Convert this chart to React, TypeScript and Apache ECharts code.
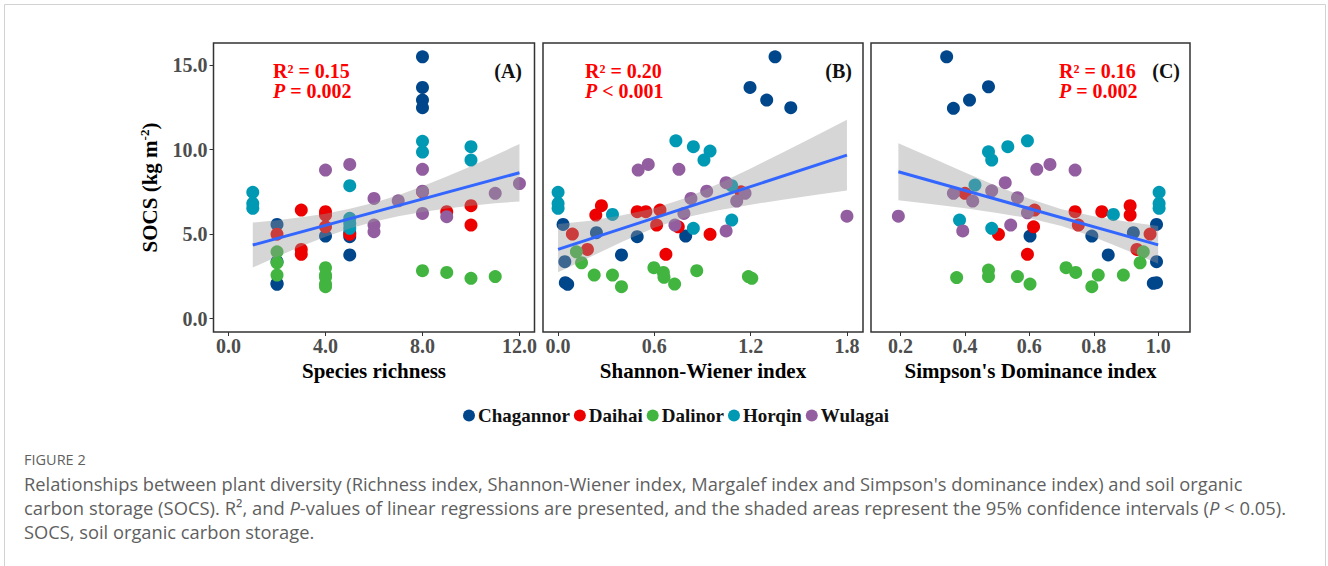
import React, { useEffect, useRef } from "react";
import * as echarts from "echarts";

const SITES = ["Chagannor", "Daihai", "Dalinor", "Horqin", "Wulagai"];
const SITE_COLORS = ["#00468B", "#ED0000", "#42B540", "#0099B4", "#925E9F"];

// Panel A: Species richness (x) vs SOCS (y)
const richChagannor = [[2, 5.58], [2, 3.37], [2, 2.09], [2, 2.03], [4, 4.89], [5, 5.09], [5, 4.85], [5, 3.77], [8, 15.5], [8, 13.69], [8, 12.94], [8, 12.49]];
const richDaihai = [[2, 5.0], [3, 6.43], [3, 4.1], [3, 3.81], [4, 6.33], [4, 6.13], [4, 5.44], [5, 4.99], [8, 7.51], [9, 6.33], [10, 6.69], [10, 5.54]];
const richDalinor = [[2, 3.96], [2, 3.31], [2, 2.58], [4, 3.02], [4, 2.58], [4, 2.45], [4, 2.05], [4, 1.89], [8, 2.84], [9, 2.74], [10, 2.39], [11, 2.49]];
const richHorqin = [[1, 7.48], [1, 6.82], [1, 6.53], [5, 7.87], [5, 5.94], [5, 5.64], [5, 5.35], [8, 10.5], [8, 9.86], [10, 10.18], [10, 9.39]];
const richWulagai = [[4, 8.8], [5, 9.13], [6, 7.12], [6, 5.54], [6, 5.15], [7, 6.98], [8, 8.84], [8, 7.55], [8, 6.23], [9, 6.04], [11, 7.42], [12, 8.0]];

// Panel B: Shannon-Wiener index (x) vs SOCS (y)
const shanChagannor = [[1.352, 15.5], [1.196, 13.69], [1.3, 12.94], [1.45, 12.49], [0.031, 5.58], [0.239, 5.09], [0.493, 4.85], [0.795, 4.89], [0.395, 3.77], [0.042, 3.37], [0.045, 2.13], [0.06, 2.03]];
const shanDaihai = [[0.27, 6.69], [0.235, 6.13], [0.089, 5.01], [0.183, 4.1], [0.493, 6.33], [0.547, 6.33], [0.635, 6.43], [0.614, 5.54], [0.749, 5.44], [0.947, 4.99], [0.672, 3.81], [1.14, 7.51]];
const shanDalinor = [[0.114, 3.96], [0.146, 3.31], [0.225, 2.58], [0.339, 2.58], [0.395, 1.89], [0.597, 3.02], [0.656, 2.74], [0.66, 2.45], [0.726, 2.05], [0.864, 2.84], [1.186, 2.49], [1.207, 2.39]];
const shanHorqin = [[0, 7.48], [0, 6.82], [0, 6.53], [0.339, 6.17], [0.734, 10.53], [0.843, 10.18], [0.947, 9.92], [0.909, 9.39], [1.082, 7.87], [1.082, 5.84], [0.843, 5.35]];
const shanWulagai = [[0.499, 8.8], [0.562, 9.13], [0.753, 8.84], [0.828, 7.12], [0.926, 7.55], [1.047, 8.05], [1.165, 7.42], [1.113, 6.96], [0.784, 6.23], [0.728, 5.54], [1.047, 5.19], [1.8, 6.07]];

// Panel C: Simpson's dominance index (x) vs SOCS (y)
const simpChagannor = [[0.343, 15.5], [0.364, 12.45], [0.414, 12.94], [0.473, 13.73], [0.995, 5.58], [0.923, 5.09], [0.794, 4.89], [0.602, 4.89], [0.845, 3.77], [0.995, 3.37], [0.985, 2.09], [0.995, 2.13]];
const simpDaihai = [[0.4, 7.42], [0.913, 6.69], [0.913, 6.13], [0.825, 6.33], [0.742, 6.33], [0.752, 5.54], [0.616, 6.43], [0.613, 5.44], [0.504, 4.99], [0.594, 3.81], [0.975, 5.01], [0.934, 4.1]];
const simpDalinor = [[0.954, 3.96], [0.944, 3.31], [0.892, 2.58], [0.814, 2.58], [0.794, 1.89], [0.714, 3.02], [0.744, 2.74], [0.602, 2.05], [0.563, 2.49], [0.473, 2.88], [0.473, 2.49], [0.374, 2.43]];
const simpHorqin = [[1.003, 7.48], [1.003, 6.82], [1.003, 6.53], [0.861, 6.17], [0.431, 7.91], [0.473, 9.88], [0.483, 9.39], [0.533, 10.18], [0.594, 10.53], [0.383, 5.84], [0.483, 5.35]];
const simpWulagai = [[0.193, 6.07], [0.364, 7.42], [0.424, 6.96], [0.483, 7.57], [0.525, 8.05], [0.563, 7.16], [0.594, 6.27], [0.623, 8.84], [0.664, 9.13], [0.742, 8.8], [0.542, 5.54], [0.393, 5.19]];

// Regression lines (end points) and 95% confidence bands
const lineA = [[1, 4.36], [12, 8.64]];
const bandAx = [1, 2, 3, 4, 5, 6, 7, 8, 9, 10, 11, 12];
const bandAlo = [3.03, 3.67, 4.28, 4.85, 5.34, 5.74, 6.07, 6.32, 6.52, 6.69, 6.83, 6.94];
const bandAhi = [5.69, 5.83, 6.0, 6.21, 6.5, 6.86, 7.31, 7.84, 8.42, 9.03, 9.67, 10.34];

const lineB = [[0, 4.1], [1.8, 9.68]];
const bandBx = [0, 0.2, 0.4, 0.6, 0.8, 1.0, 1.2, 1.4, 1.6, 1.8];
const bandBlo = [2.75, 3.65, 4.56, 5.38, 6.0, 6.42, 6.75, 7.04, 7.32, 7.58];
const bandBhi = [5.6, 5.79, 6.12, 6.54, 7.16, 7.98, 8.89, 9.84, 10.8, 11.78];

const lineC = [[0.193, 8.7], [1.0, 4.37]];
const bandCx = [0.193, 0.3, 0.4, 0.5, 0.6, 0.7, 0.8, 0.9, 1.0];
const bandClo = [7.01, 6.77, 6.53, 6.26, 5.94, 5.48, 4.84, 4.07, 3.25];
const bandChi = [10.39, 9.49, 8.65, 7.84, 7.1, 6.48, 6.06, 5.75, 5.49];

// Axis ticks
const yTicks = [0, 5, 10, 15];
const xTicksA = [0, 4, 8, 12];
const xTicksB = [0, 0.6, 1.2, 1.8];
const xTicksC = [0.2, 0.4, 0.6, 0.8, 1.0];

const statsA = ["R² = 0.15", "{i|P} = 0.002"];
const statsB = ["R² = 0.20", "{i|P} < 0.001"];
const statsC = ["R² = 0.16", "{i|P} = 0.002"];
const panelLabels = ["(A)", "(B)", "(C)"];
const xTitles = ["Species richness", "Shannon-Wiener index", "Simpson's Dominance index"];

const SERIF = '"Liberation Serif", "Times New Roman", serif';
const SANS = '"Open Sans", "Noto Sans", sans-serif';

export default function App() {
  const ref = useRef<HTMLDivElement>(null);

  useEffect(() => {
    document.body.style.margin = "0";
    const chart = echarts.init(ref.current!, undefined, { renderer: "svg" });

    const gridDefs = [
      { left: 213.5, top: 43, width: 321, height: 289 },
      { left: 543, top: 43, width: 320, height: 289 },
      { left: 871, top: 43, width: 319, height: 289 },
    ];
    const xRanges = [
      [-0.62, 12.62],
      [-0.094, 1.9],
      [0.108, 1.099],
    ];
    const xTickSets = [xTicksA, xTicksB, xTicksC];

    const scatterSets = [
      [richChagannor, richDaihai, richDalinor, richHorqin, richWulagai],
      [shanChagannor, shanDaihai, shanDalinor, shanHorqin, shanWulagai],
      [simpChagannor, simpDaihai, simpDalinor, simpHorqin, simpWulagai],
    ];
    const bands = [
      [bandAx, bandAlo, bandAhi],
      [bandBx, bandBlo, bandBhi],
      [bandCx, bandClo, bandChi],
    ];
    const lines = [lineA, lineB, lineC];

    const tickLabelStyle = {
      fontFamily: SERIF,
      fontWeight: "bold" as const,
      fontSize: 20,
      color: "#4d4d4d",
    };

    const series: any[] = [];
    scatterSets.forEach((sets, g) => {
      sets.forEach((d, s) => {
        series.push({
          type: "scatter",
          name: SITES[s],
          xAxisIndex: g,
          yAxisIndex: g,
          data: d,
          symbol: "circle",
          symbolSize: 13,
          itemStyle: { color: SITE_COLORS[s], opacity: 1 },
          z: 2,
        });
      });
    });
    bands.forEach(([xs, lo, hi], g) => {
      series.push({
        type: "custom",
        xAxisIndex: g,
        yAxisIndex: g,
        silent: true,
        z: 3,
        data: (xs as number[]).map((x, i) => [x, lo[i], hi[i]]),
        encode: { x: 0, y: [1, 2] },
        renderItem: (params: any, api: any) => {
          if (params.dataIndex !== 0) return null;
          const pts: number[][] = [];
          for (let i = 0; i < xs.length; i++) pts.push(api.coord([xs[i], hi[i]]));
          for (let i = xs.length - 1; i >= 0; i--) pts.push(api.coord([xs[i], lo[i]]));
          return {
            type: "polygon",
            shape: { points: pts },
            style: { fill: "rgba(153,153,153,0.4)" },
          };
        },
      });
    });
    lines.forEach((l, g) => {
      series.push({
        type: "line",
        xAxisIndex: g,
        yAxisIndex: g,
        data: l,
        symbol: "none",
        silent: true,
        lineStyle: { color: "#3366FF", width: 3 },
        z: 4,
      });
    });

    const statsList = [statsA, statsB, statsC];
    const statsX = [273, 585, 1059];
    const labelX = [522, 852, 1180];

    const graphics: any[] = [
      {
        type: "rect",
        shape: { x: 4.5, y: 4.5, width: 1321, height: 600 },
        style: { fill: "none", stroke: "#d2d2d2", lineWidth: 1 },
        silent: true,
      },
    ];
    statsList.forEach((st, i) => {
      st.forEach((t, j) => {
        graphics.push({
          type: "text",
          x: statsX[i],
          y: 71 + j * 20,
          style: {
            text: t,
            fill: "#ff0000",
            font: `bold 20px ${SERIF}`,
            align: "left",
            verticalAlign: "middle",
            rich: {
              i: { fontStyle: "italic", fontWeight: "bold", fontSize: 20, fontFamily: SERIF, fill: "#ff0000" },
            },
          },
        });
      });
      graphics.push({
        type: "text",
        x: labelX[i],
        y: 71,
        style: {
          text: panelLabels[i],
          fill: "#111",
          font: `bold 20px ${SERIF}`,
          align: "right",
          verticalAlign: "middle",
        },
      });
    });

    const capFill = "#5f5f5f";
    graphics.push(
      {
        type: "text",
        x: 24,
        y: 459,
        style: { text: "FIGURE 2", fill: capFill, font: `14.5px ${SANS}`, align: "left", verticalAlign: "middle" },
      },
      {
        type: "text",
        x: 24,
        y: 483,
        style: {
          text: "Relationships between plant diversity (Richness index, Shannon-Wiener index, Margalef index and Simpson's dominance index) and soil organic",
          fill: capFill,
          font: `18.3px ${SANS}`,
          align: "left",
          verticalAlign: "middle",
        },
      },
      {
        type: "text",
        x: 24,
        y: 507,
        style: {
          text: "carbon storage (SOCS). R², and {i|P}-values of linear regressions are presented, and the shaded areas represent the 95% confidence intervals ({i|P} < 0.05).",
          fill: capFill,
          font: `18.4px ${SANS}`,
          align: "left",
          verticalAlign: "middle",
          rich: {
            i: { fontStyle: "italic", fontSize: 18.4, fontFamily: SANS, fill: capFill },
          },
        },
      },
      {
        type: "text",
        x: 24,
        y: 531,
        style: { text: "SOCS, soil organic carbon storage.", fill: capFill, font: `18.3px ${SANS}`, align: "left", verticalAlign: "middle" },
      }
    );

    chart.setOption({
      animation: false,
      grid: gridDefs.map((g) => ({
        ...g,
        show: true,
        borderColor: "#333333",
        borderWidth: 1.5,
        backgroundColor: "transparent",
        containLabel: false,
      })),
      xAxis: gridDefs.map((_, i) => ({
        type: "value",
        gridIndex: i,
        position: "bottom",
        min: xRanges[i][0],
        max: xRanges[i][1],
        name: xTitles[i],
        nameLocation: "middle",
        nameGap: 27,
        nameTextStyle: { fontFamily: SERIF, fontWeight: "bold", fontSize: 21, color: "#000" },
        axisLine: { show: false, onZero: false },
        axisTick: {
          show: true,
          inside: false,
          length: 4,
          customValues: xTickSets[i],
          lineStyle: { color: "#333333", width: 1 },
        },
        axisLabel: {
          ...tickLabelStyle,
          margin: 4,
          customValues: xTickSets[i],
          formatter: (v: number) => v.toFixed(1),
        },
        splitLine: { show: false },
      })),
      yAxis: gridDefs.map((_, i) => ({
        type: "value",
        gridIndex: i,
        position: "left",
        min: -0.79,
        max: 16.32,
        name: i === 0 ? "{a|SOCS (kg m}{s|-2}{a|)}" : "",
        nameLocation: "middle",
        nameRotate: 90,
        nameGap: 52,
        nameTextStyle: {
          rich: {
            a: { fontFamily: SERIF, fontWeight: "bold", fontSize: 21, color: "#000", lineHeight: 24 },
            s: { fontFamily: SERIF, fontWeight: "bold", fontSize: 13, color: "#000", verticalAlign: "top", lineHeight: 24 },
          },
        },
        axisLine: { show: false, onZero: false },
        axisTick: {
          show: i === 0,
          inside: false,
          length: 4,
          customValues: yTicks,
          lineStyle: { color: "#333333", width: 1 },
        },
        axisLabel: {
          show: i === 0,
          ...tickLabelStyle,
          margin: 6,
          customValues: yTicks,
          formatter: (v: number) => v.toFixed(1),
        },
        splitLine: { show: false },
      })),
      legend: {
        data: SITES,
        left: 458,
        top: 401,
        itemGap: 4,
        itemWidth: 12,
        itemHeight: 15,
        icon: "path://M0,10 A10,10 0 1,1 20,10 A10,10 0 1,1 0,10 Z",
        textStyle: { fontFamily: SERIF, fontWeight: "bold", fontSize: 19, color: "#111", padding: [0, 0, 0, -2] },
        selectedMode: false,
      },
      graphic: graphics,
      series,
    });

    return () => chart.dispose();
  }, []);

  return <div ref={ref} style={{ width: 1328, height: 566 }} />;
}
